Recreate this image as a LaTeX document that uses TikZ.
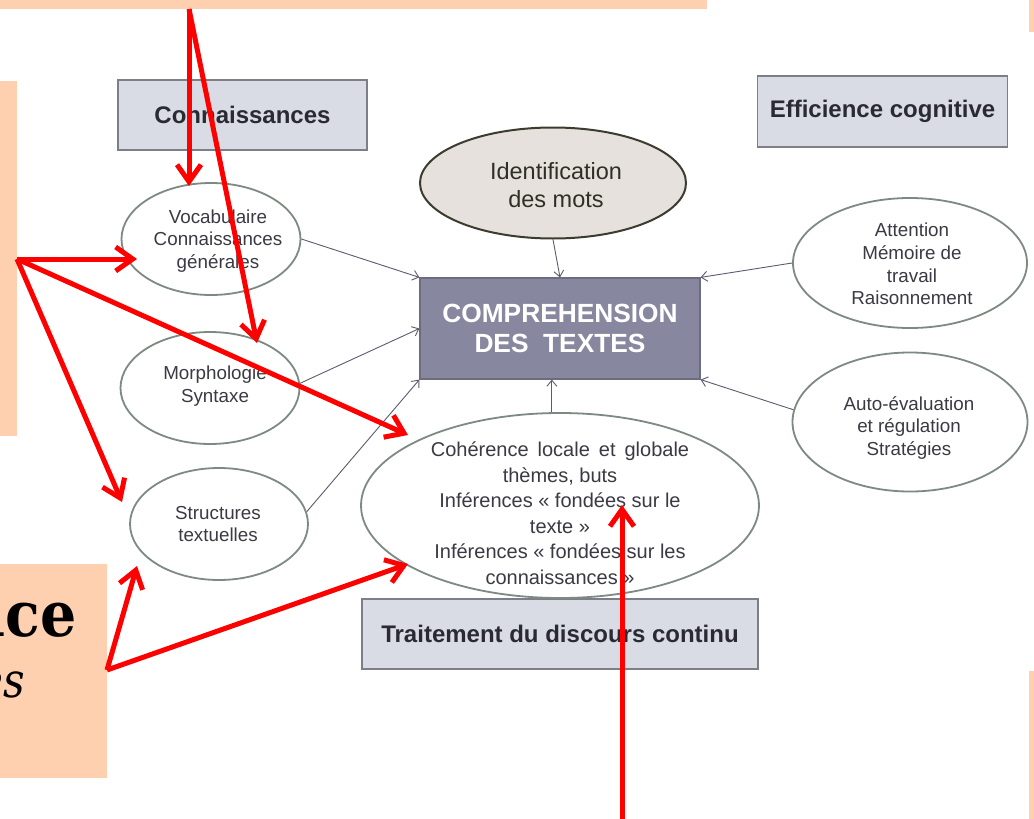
\documentclass[tikz,border=0pt]{standalone}
\usepackage{fontspec}
\usepackage{graphicx}
\setsansfont{Liberation Sans}
\newfontfamily\acefont{DejaVu Serif}
\usetikzlibrary{shapes.geometric,arrows.meta}
\definecolor{peach}{HTML}{FFD0B0}
\definecolor{boxfill}{HTML}{D9DCE4}
\definecolor{boxdraw}{HTML}{7E7E86}
\definecolor{ellline}{HTML}{7D8A82}
\definecolor{txtgray}{HTML}{3A3A44}
\definecolor{lbltxt}{HTML}{2A2A33}
\definecolor{compfill}{HTML}{8787A0}
\definecolor{compdraw}{HTML}{6C6C7E}
\definecolor{identfill}{HTML}{E6E1DD}
\definecolor{identdraw}{HTML}{3B3B2E}
\definecolor{conncol}{HTML}{5C5C6E}
\begin{document}
\begin{tikzpicture}[x=1pt,y=-1pt,
  lbl/.style={draw=boxdraw, line width=1.5pt, fill=boxfill, inner sep=0pt,
    font=\sffamily\bfseries\fontsize{24}{28}\selectfont, text=lbltxt},
  ell/.style={ellipse, draw=ellline, line width=1.8pt, fill=white, inner sep=0pt},
  etxt/.style={align=center, inner sep=0pt, text=txtgray,
    font=\sffamily\fontsize{18.8}{22.6}\selectfont},
  gconn/.style={draw=conncol, line width=0.9pt, -{Straight Barb[length=6pt,width=10pt]}},
  redarr/.style={draw=red, line width=5pt, line join=miter,
    -{Straight Barb[length=17pt,width=24pt]}}
]
\useasboundingbox (0,0) rectangle (1034,819);
\fill[white] (0,0) rectangle (1034,819);

% peach slide fragments
\fill[peach] (0,0) rectangle (707,9);
\fill[peach] (0,81) rectangle (17,436);
\fill[peach] (0,564) rectangle (107,778);
\fill[peach] (1029,0) rectangle (1034,32);
\fill[peach] (1029,671) rectangle (1034,819);
\begin{scope}
\clip (0,0) rectangle (1034,819);
\node[anchor=base east, inner sep=0pt, font=\acefont\bfseries\fontsize{57}{57}\selectfont]
  (ace) at (77,636) {\scalebox{1}[1.1]{ace}};
\node[anchor=base east, inner sep=0pt, font=\acefont\itshape\fontsize{42}{42}\selectfont]
  (es) at (25,697) {\scalebox{1}[1.15]{es}};
\end{scope}

% title boxes
\node[lbl, minimum width=249pt, minimum height=70pt] (conn) at (242.5,115) {Connaissances};
\node[lbl, minimum width=250pt, minimum height=71pt] (eff) at (882.5,111.5) {Efficience cognitive};
\node[lbl, minimum width=396pt, minimum height=70pt] (trait) at (560,634) {Traitement du discours continu};

% central box
\node[draw=compdraw, line width=1.2pt, fill=compfill, minimum width=280pt, minimum height=101pt,
  inner sep=0pt, align=center, text=white,
  font=\sffamily\bfseries\fontsize{26.3}{30}\selectfont] (comp) at (560,328.5)
  {COMPREHENSION\\DES\ \ TEXTES};

% word identification
\node[ell, draw=identdraw, line width=2pt, fill=identfill, minimum width=266pt, minimum height=111pt] (ident) at (553,183) {};
\node[etxt, text=identdraw!80!black, font=\sffamily\fontsize{23.5}{28}\selectfont] (identT) at (556,185) {Identification\\des mots};

% left ellipses
\node[ell, minimum width=179pt, minimum height=112pt] (vocab) at (211,239) {};
\node[etxt] (vocabT) at (218,241) {Vocabulaire\\Connaissances\\générales};
\node[ell, minimum width=179pt, minimum height=112pt] (morph) at (210,388) {};
\node[etxt] (morphT) at (215,386) {Morphologie\\Syntaxe};
\node[ell, minimum width=178pt, minimum height=112pt] (struct) at (219,524) {};
\node[etxt] (structT) at (218,524) {Structures\\textuelles};

% right ellipses
\node[ell, minimum width=234pt, minimum height=130pt] (att) at (910,263) {};
\node[etxt] (attT) at (912,264) {Attention\\Mémoire de\\travail\\Raisonnement};
\node[ell, minimum width=235pt, minimum height=139pt] (auto) at (910,422) {};
\node[etxt] (autoT) at (909,428) {Auto-évaluation\\et régulation\\Stratégies};

% coherence ellipse
\node[ell, minimum width=398pt, minimum height=185pt] (coh) at (560,505.5) {};
\node[etxt, font=\sffamily\fontsize{20}{25.5}\selectfont] (cohT) at (560,513)
  {\spaceskip=9pt\relax Cohérence locale et globale\\thèmes, buts\\Inférences « fondées sur le\\texte »\\Inférences « fondées sur les\\connaissances »};

% gray connectors
\draw[gconn] (vocab.east) -- (comp.north west);
\draw[gconn] (morph.3) -- (comp.west);
\draw[gconn] (struct.8) -- (comp.south west);
\draw[gconn] (ident.south) -- (comp.north);
\draw[gconn] (coh.95.6) -- (coh.95.6 |- comp.south);
\draw[gconn] (att.west) -- (comp.north east);
\draw[gconn] (auto.174) -- (comp.south east);

% red annotation arrows
\coordinate (sTop) at (189,9);
\coordinate (sLeft) at (17,259);
\coordinate (sBot) at (107,670);
\coordinate (sDown) at (622,819);
\coordinate (tVocA) at (189,186);
\coordinate (tMorph) at (257,343);
\coordinate (tVocB) at (137,259);
\coordinate (tCohA) at (408,435);
\coordinate (tStructA) at (122,502);
\coordinate (tStructB) at (137,566);
\coordinate (tCohB) at (408,564);
\coordinate (tCohC) at (622,505);
\draw[redarr] (sTop) -- (tVocA);
\draw[redarr] (sTop) -- (tMorph);
\draw[redarr] (sLeft) -- (tVocB);
\draw[redarr] (sLeft) -- (tCohA);
\draw[redarr] (sLeft) -- (tStructA);
\draw[redarr] (sBot) -- (tStructB);
\draw[redarr] (sBot) -- (tCohB);
\draw[redarr] (sDown) -- (tCohC);
\end{tikzpicture}
\end{document}
